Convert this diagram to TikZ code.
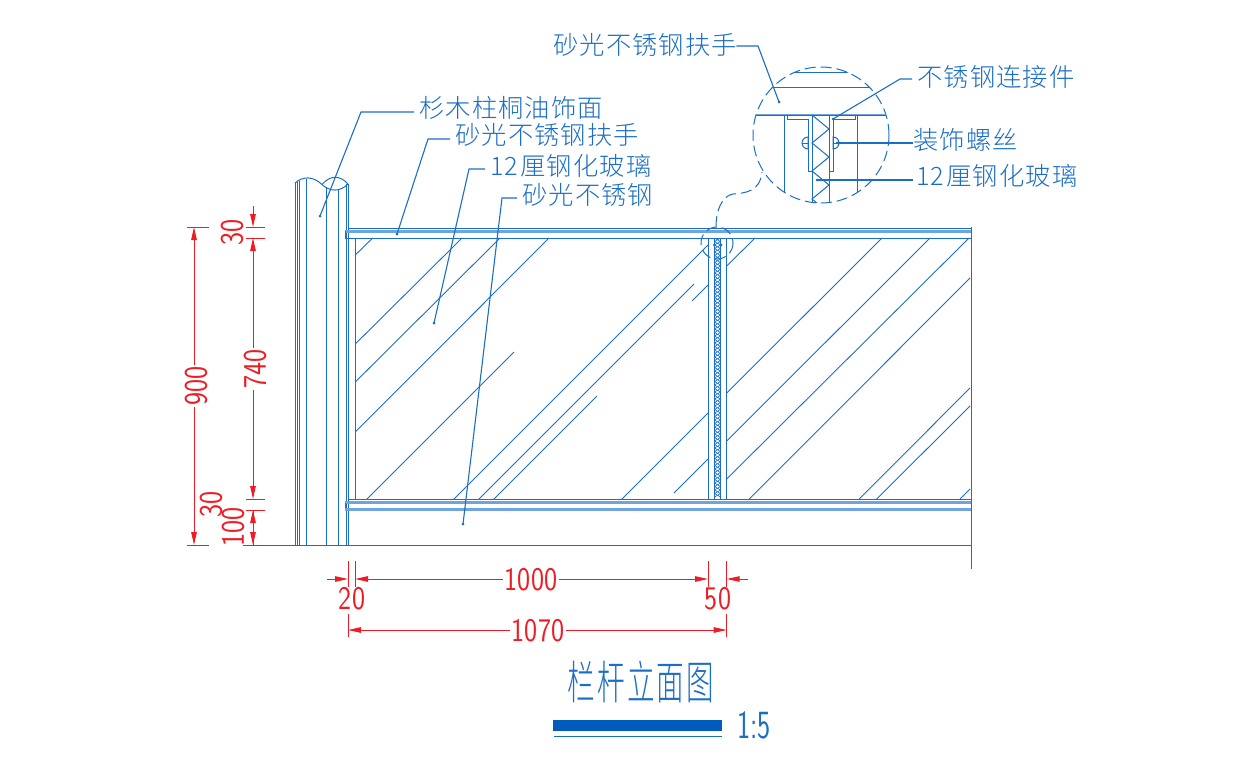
\documentclass[tikz,border=0pt]{standalone}
\usepackage{fontspec}
\usetikzlibrary{arrows.meta}
\newfontfamily\notefont[LetterSpace=4.5]{Noto Sans CJK SC Light}
\newfontfamily\titlefont[FakeStretch=0.6,LetterSpace=4.5]{Noto Sans CJK SC Light}
\newfontfamily\dimfont[FakeStretch=0.84]{Latin Modern Sans}
\newfontfamily\scalefont[FakeStretch=0.7]{Latin Modern Sans}
\definecolor{linecol}{HTML}{1B6EC6}
\definecolor{bandcol}{HTML}{6FA5DF}
\definecolor{barcol}{HTML}{005BBB}
\definecolor{dimcol}{HTML}{EE1C25}
\begin{document}
\begin{tikzpicture}
[x=1pt,y=-1pt]
\tikzset{ln/.style={draw=linecol,line width=1pt}}
\tikzset{band/.style={draw=bandcol,line width=2.2pt}}
\tikzset{dashln/.style={draw=linecol,line width=1pt,dash pattern=on 11pt off 5pt}}
\tikzset{note/.style={font=\fontsize{25.3}{25}\selectfont\notefont,text=linecol,inner sep=0,anchor=west}}
\tikzset{lead/.style={draw=linecol,line width=1.1pt,shorten >=5pt}}
\tikzset{dim/.style={draw=dimcol,line width=1pt}}
\tikzset{dimarr/.style={dim,-{Triangle[length=13pt,width=5.5pt]}}}
\tikzset{dimnum/.style={font=\fontsize{33}{33}\selectfont\dimfont,text=dimcol,inner sep=1.5pt}}
\useasboundingbox (0,0) rectangle (1234,756);

% post
\foreach \x/\y in {295/183,297/182,299.5/181,306/179,326/187,338/189,346/184,348/184}
	\draw [ln] (\x,\y) -- (\x,545);
\draw [ln] (295,183) .. controls (303,176) and (313,176) .. (322,184.5);
\draw [ln] (322,184.5) .. controls (330,175) and (340,175) .. (348,184);
\draw [ln] (322,184.5) .. controls (330,192) and (340,192) .. (348,184);

% rails
\draw [ln] (348,228) -- (971,228);
\draw [band] (345,231.5) -- (971,231.5);
\draw [ln] (345,231) -- (345,238) -- (971,238);
\draw [ln] (348,499.5) -- (971,499.5);
\draw [band] (345,502.5) -- (971,502.5);
\draw [ln] (345,502.5) -- (345,509.5);
\draw [band] (345,509.5) -- (971,509.5);
\draw [ln] (243,545) -- (971,545);
\draw [ln] (971,227) -- (971,569);

% frames
\foreach \x in {355.3,708,714.5,720.5,726.7}
	\draw [ln] (\x,238) -- (\x,500);
\foreach \y in {238,245,...,493}
	\draw [ln,line width=.6pt] (714.5,\y) -- (720.5,\y+3.5) -- (714.5,\y+7) (720.5,\y) -- (714.5,\y+3.5) -- (720.5,\y+7);
\fill [linecol] (714.5,245) circle (1.6) (721,245) circle (1.6);

% glass
\foreach \xa/\ya/\xb/\yb in {355.3/255/372.7/238,355.3/344/462/238,355.3/382/500/238,355.3/432/549/238,
	367/499/514/352,454/499/708/245,479/499/694/284,494/499/597/396,692/301/708/285,622/499/708/413,674/493/708/459,
	726.7/266/755/238,726.7/393/882/238,726.7/441/930/238,726.7/479/969/238,749.3/499/970/278,
	859.3/499/970/388,876.7/499/970/406,960/499/970/489}
	\draw [ln,line width=.9pt] (\xa,\ya) -- (\xb,\yb);

% detail circle
\coordinate (c1) at (717,243);
\coordinate (c2) at (821,135);
\draw [dashln] (c1) circle (16);
\draw [dashln] (c2) circle (68);
\draw [dashln] (716,227) .. controls (716,210) and (722,196) .. (733,194) .. controls (745,193) and (760,192) .. (762,172);
\begin{scope}
\clip (c2) circle (68);
\draw [ln] (750,72) -- (890,72);
\draw [ln] (750,87) -- (890,87);
\draw [band] (750,115) -- (890,115);
\draw [ln] (750,115) -- (890,115);
\foreach \x in {784,812,829,857}
	\draw [ln] (\x,115) -- (\x,204);
\draw [ln] (787,115) -- (787,119.5) -- (808,119.5) -- (808,171) -- (812,171);
\draw [ln] (855,115) -- (855,119.5) -- (833,119.5) -- (833,171) -- (829,171);
\draw [ln] (812,115) -- (829,129) -- (812,143) -- (829,157) -- (812,171) -- (829,185) -- (812,199) -- (829,213);
\draw [ln] (808,149) arc (90:270:6) -- cycle;
\draw [ln] (833,149) arc (90:-90:6) -- cycle;
\draw [ln] (802,143) -- (808,143) (833,143) -- (839,143);
\end{scope}

% notes
\node [note] (t1) at (419,108) {杉木柱桐油饰面};
\node [note] (t2) at (455,135) {砂光不锈钢扶手};
\node [note] (t3) at (490,166) {12\kern2pt 厘钢化玻璃};
\node [note] (t4) at (522,195) {砂光不锈钢};
\node [note] (t5) at (553,45) {砂光不锈钢扶手};
\node [note] (t6) at (917,77) {不锈钢连接件};
\node [note] (t7) at (913,140) {装饰螺丝};
\node [note] (t8) at (916,176) {12\kern2pt 厘钢化玻璃};
\foreach \n/\xa/\ya/\xb/\yb in {t1/320/216/361/112,t2/397/234/428/139,t3/434/323/469/169,t4/463/524/502/198,
	t6/833/119/900/79}{
	\coordinate (\n p) at (\xa,\ya);
	\coordinate (\n e) at (\xb,\yb);
	\fill [linecol] (\n p) circle (1.5);
	\draw [lead] (\n p) -- (\n e) -- (\n e -| \n.west);
}
\coordinate (t5p) at (779,102);
\coordinate (t5e) at (758,46);
\fill [linecol] (t5p) circle (1.5);
\draw [lead,shorten >=-1pt] (t5p) -- (t5e) -- (t5e -| t5.east);
\coordinate (t7p) at (837,143);
\coordinate (t8p) at (817,180);
\fill [linecol] (t7p) circle (1.5) (t8p) circle (1.5);
\draw [lead,shorten >=0pt] (t7p) -- (t7p -| t7.west);
\draw [lead,shorten >=3pt] (t8p) -- (t8p -| t8.west);

% dimensions
\foreach \n/\xa/\ya/\xb/\yb in {e1/187/227/209/227,e2/187/545/209/545,e3/246/227/265/227,e4/246/238/265/238,
	e5/246/499/265/499,e6/246/510/265/510,e7/246/545/265/545,e8/348/561/348/587,e9/355/561/355/587,
	e10/708/561/708/587,e11/726.7/561/726.7/587,e12/348/614/348/637,e13/726.7/614/726.7/637}{
	\coordinate (\n a) at (\xa,\ya);
	\coordinate (\n b) at (\xb,\yb);
	\draw [dim] (\n a) -- (\n b);
}
\node [dimnum,rotate=90] (d900) at (196,386) {900};
\node [dimnum,rotate=90] (d30a) at (232,232) {30};
\node [dimnum,rotate=90] (d740) at (255,369) {740};
\node [dimnum,rotate=90] (d30b) at (211,504) {30};
\node [dimnum,rotate=90] (d100) at (233,527) {100};
\node [dimnum] (d20) at (352,599) {20};
\node [dimnum] (d1000) at (531,580) {1000};
\node [dimnum] (d50) at (718,599) {50};
\node [dimnum] (d1070) at (538,631) {1070};
\coordinate (v1) at (194,0);
\coordinate (v2) at (253,0);
\draw [dimarr] (d900.east -| v1) -- (e1a -| v1);
\draw [dimarr] (d900.west -| v1) -- (e2a -| v1);
\draw [dimarr] (253,206) -- (e3a -| v2);
\draw [dimarr] (d740.east -| v2) -- (e4a -| v2);
\draw [dimarr] (d740.west -| v2) -- (e5a -| v2);
\draw [dimarr] (e7a -| v2) -- (e6a -| v2);
\draw [dimarr] (e6a -| v2) -- (e7a -| v2);
\coordinate (h1) at (0,579);
\coordinate (h2) at (0,630);
\draw [dimarr] (327,579) -- (e8a |- h1);
\draw [dimarr] (d1000.west |- h1) -- (e9a |- h1);
\draw [dimarr] (d1000.east |- h1) -- (e10a |- h1);
\draw [dimarr] (748,579) -- (e11a |- h1);
\draw [dimarr] (d1070.west |- h2) -- (e12a |- h2);
\draw [dimarr] (d1070.east |- h2) -- (e13a |- h2);

% title
\node [font=\fontsize{46}{46}\selectfont\titlefont,text=linecol,inner sep=0] (title) at (641,682) {栏杆立面图};
\fill [barcol] (553,720) rectangle (722,731);
\draw [ln] (554,736) -- (722,736);
\node [font=\fontsize{40}{40}\selectfont\scalefont,text=linecol,inner sep=0,anchor=west] (ratio) at (737,725) {1:5};
\end{tikzpicture}
\end{document}
